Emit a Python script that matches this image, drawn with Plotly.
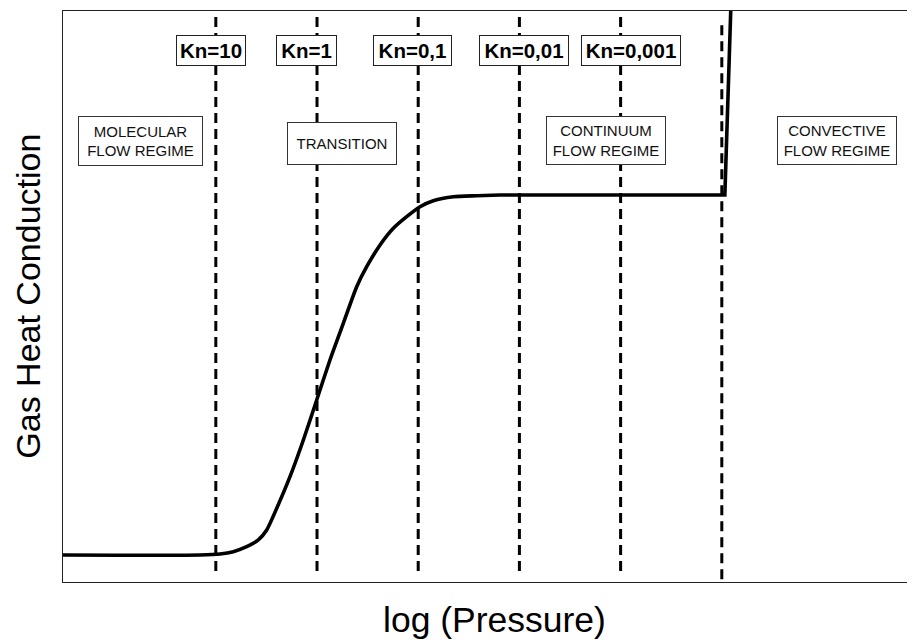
import plotly.graph_objects as go

# ---------------- data ----------------
# x: log(1/Kn) units (Kn=10 -> -1, Kn=1 -> 0, ...), y: relative gas heat conduction (0-100)
curve_x = [-2.51, -1.156, -0.958, -0.827, -0.695, -0.580, -0.497, -0.398, -0.267, -0.135,
           -0.003, 0.128, 0.260, 0.392, 0.491, 0.623, 0.754, 0.886, 1.018, 1.149,
           1.347, 1.578, 1.808, 4.00, 4.03, 4.09]
curve_y = [4.73, 4.73, 4.90, 5.31, 6.18, 7.36, 9.11, 12.91, 18.44, 24.87,
           31.87, 38.88, 45.31, 51.72, 55.22, 59.02, 61.94, 63.98, 65.73, 66.78,
           67.48, 67.65, 67.78, 67.78, 67.78, 101.0]
n_smooth = 23  # points of the S-shaped part

kn_x = [-1, 0, 1, 2, 3]
kn_labels = ["Kn=10", "Kn=1", "Kn=0,1", "Kn=0,01", "Kn=0,001"]
kn_label_x = [-1.047, -0.104, 0.944, 2.045, 3.103]
kn_label_w = [68, 59, 77, 88, 98]
kn_label_y = 93.08
kn_line_top = 98.95
kn_line_bottom = 0.88

conv_x = 4
conv_line_top = 97.5
conv_line_bottom = -0.4

regime_labels = ["MOLECULAR<br>FLOW REGIME", "TRANSITION", "CONTINUUM<br>FLOW REGIME",
                 "CONVECTIVE<br>FLOW REGIME"]
regime_x = [-1.744, 0.247, 2.856, 5.138]
regime_y = [77.32, 76.80, 77.32, 77.32]
regime_w = [123, 108, 118, 118]
regime_h = [48, 41, 47, 47]

x_range = [-2.51, 5.909]
y_range = [0, 100]

# ---------------- figure ----------------
fig = go.Figure()

dash = "10px,6px"
for xv in kn_x:
    fig.add_trace(go.Scatter(x=[xv, xv], y=[kn_line_top, kn_line_bottom], mode="lines",
                             line=dict(color="black", width=3, dash=dash),
                             hoverinfo="skip", showlegend=False))
fig.add_trace(go.Scatter(x=[conv_x, conv_x], y=[conv_line_top, conv_line_bottom], mode="lines",
                         line=dict(color="black", width=3, dash=dash),
                         hoverinfo="skip", showlegend=False))

fig.add_trace(go.Scatter(x=curve_x[:n_smooth], y=curve_y[:n_smooth], mode="lines",
                         line=dict(color="black", width=3.6, shape="spline", smoothing=0.6),
                         showlegend=False))
fig.add_trace(go.Scatter(x=curve_x[n_smooth - 1:], y=curve_y[n_smooth - 1:], mode="lines",
                         line=dict(color="black", width=3.6),
                         showlegend=False))

for lab, xv, w in zip(kn_labels, kn_label_x, kn_label_w):
    fig.add_annotation(x=xv, y=kn_label_y, xref="x", yref="y", text="<b>" + lab + "</b>",
                       showarrow=False, font=dict(family="Liberation Sans, Arial", size=20.5, color="black"),
                       bgcolor="white", bordercolor="#222", borderwidth=1, borderpad=0,
                       width=w, height=29, align="center", valign="middle")

for lab, xv, yv, w, h in zip(regime_labels, regime_x, regime_y, regime_w, regime_h):
    fig.add_annotation(x=xv, y=yv, xref="x", yref="y", text=lab,
                       showarrow=False, font=dict(family="Liberation Sans, Arial", size=15, color="#111"),
                       bgcolor="white", bordercolor="#333", borderwidth=1, borderpad=0,
                       width=w, height=h, align="center", valign="middle")

# axis titles
fig.add_annotation(x=-0.0420, y=0.5, xref="paper", yref="paper", text="Gas Heat Conduction",
                   textangle=-90, showarrow=False, xanchor="center", yanchor="middle",
                   font=dict(family="Liberation Sans, Arial", size=34, color="black"))
fig.add_annotation(x=0.507, y=-0.0665, xref="paper", yref="paper", text="log (Pressure)",
                   showarrow=False, xanchor="center", yanchor="middle",
                   font=dict(family="Liberation Sans, Arial", size=35.5, color="black"))

# the page body adds an 8px margin, so the figure is sized/offset to fill the window
fig.update_layout(
    width=907, height=633,
    margin=dict(l=55, r=0, t=3, b=59),
    paper_bgcolor="white", plot_bgcolor="white",
    xaxis=dict(range=x_range, showgrid=False, zeroline=False, showticklabels=False,
               ticks="", showline=True, linecolor="#222", linewidth=1.3, mirror=True),
    yaxis=dict(range=y_range, showgrid=False, zeroline=False, showticklabels=False,
               ticks="", showline=True, linecolor="#222", linewidth=1.3, mirror=False),
)

fig.write_html("out.html")
